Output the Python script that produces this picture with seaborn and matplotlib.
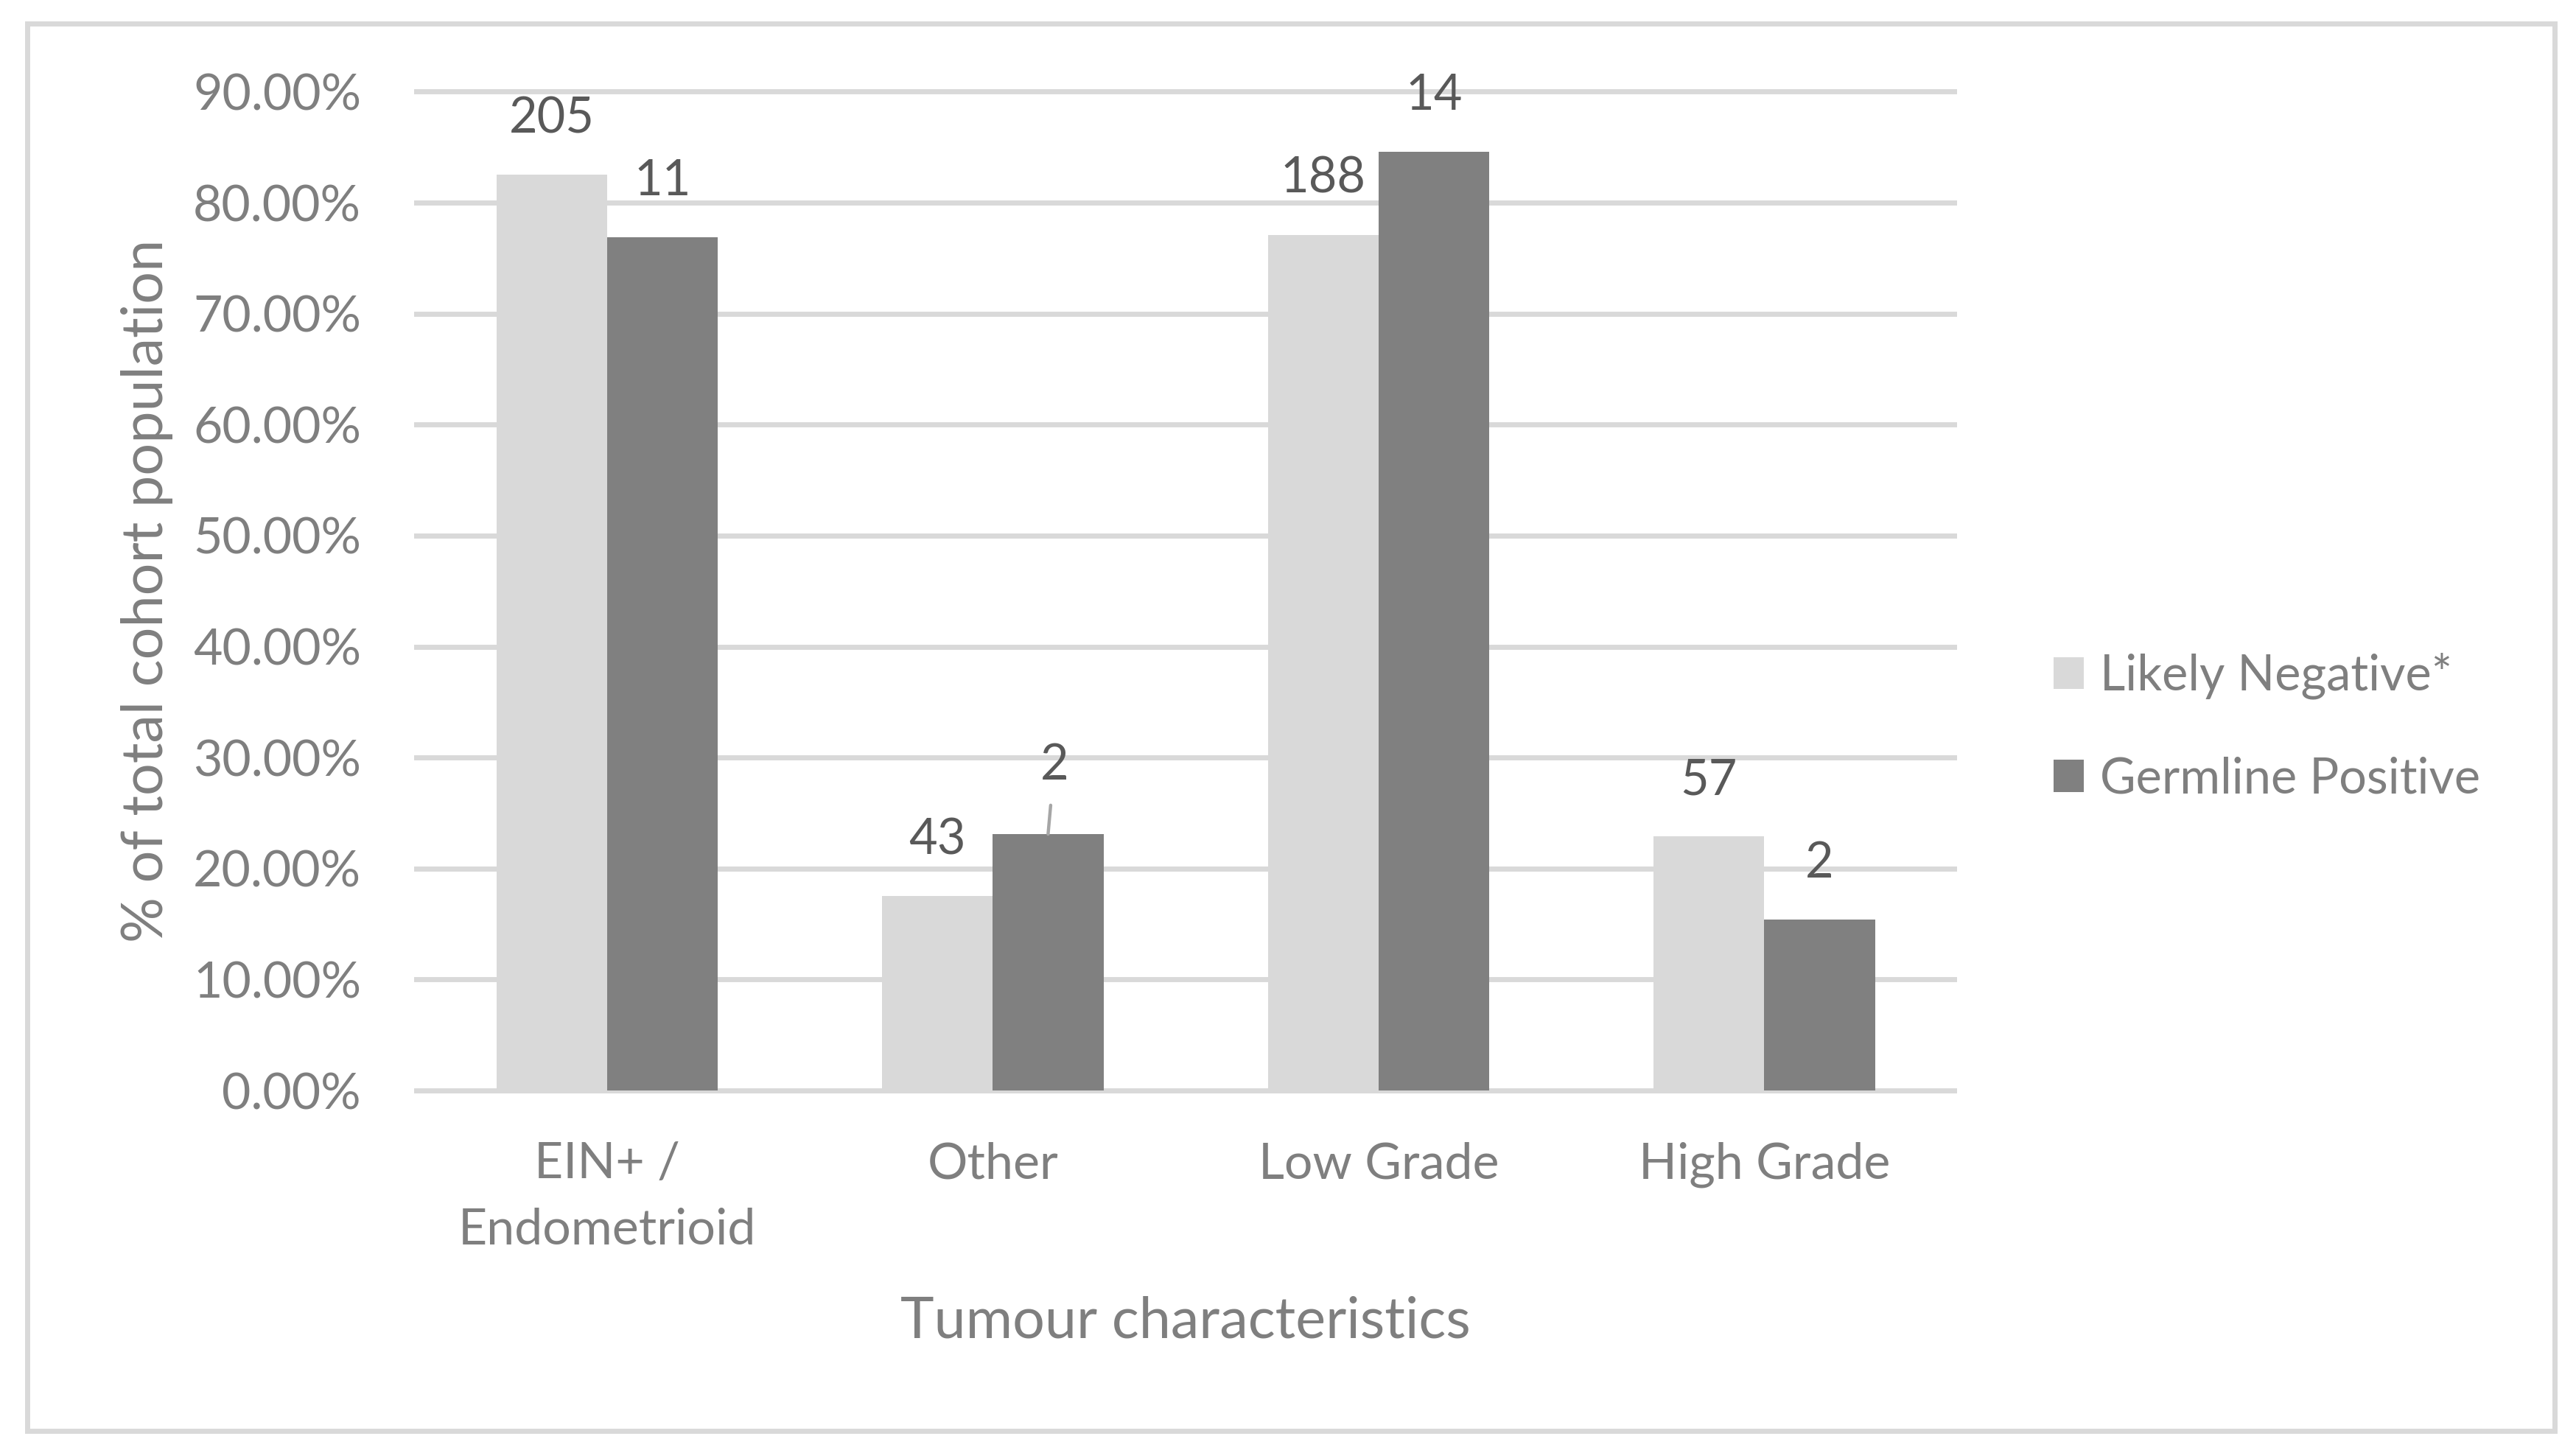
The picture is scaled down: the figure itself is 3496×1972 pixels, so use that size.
import matplotlib
matplotlib.use("Agg")
import matplotlib.pyplot as plt
import seaborn as sns
import pandas as pd
from matplotlib.patches import Rectangle
from matplotlib.ticker import FuncFormatter

# data (% of total cohort population)
categories = ["EIN+ /\nEndometrioid", "Other", "Low Grade", "High Grade"]
groups = ["Likely Negative*", "Germline Positive"]
likely_negative = [82.5, 17.5, 77.1, 22.9]
germline_positive = [76.9, 23.1, 84.6, 15.4]
likely_negative_n = [205, 43, 188, 57]
germline_positive_n = [11, 2, 14, 2]
y_ticks = [0, 10, 20, 30, 40, 50, 60, 70, 80, 90]

colors = ["#d9d9d9", "#808080"]
grid_col = "#d9d9d9"
text_col = "#7f7f7f"
label_col = "#595959"

df = pd.DataFrame({
    "category": categories * 2,
    "group": [groups[0]] * 4 + [groups[1]] * 4,
    "pct": likely_negative + germline_positive,
})
counts = [likely_negative_n, germline_positive_n]

sns.set_theme(style="white")
plt.rcParams["font.family"] = ["Lato", "DejaVu Sans"]

fig = plt.figure(figsize=(17.48, 9.86), dpi=200)
ax = fig.add_axes([0.16076, 0.24757, 0.59897, 0.69122])

sns.barplot(data=df, x="category", y="pct", hue="group", order=categories,
            hue_order=groups, palette=colors, saturation=1, width=0.574,
            gap=0, linewidth=0, ax=ax, legend=True)

ax.set_ylim(-0.25, 90.25)
ax.set_xlim(-0.5, 3.5)
ax.set_yticks(y_ticks)
ax.yaxis.set_major_formatter(FuncFormatter(lambda v, p: f"{v:.2f}%"))
ax.set_axisbelow(True)
ax.yaxis.grid(True, color=grid_col, linewidth=2.5)
ax.xaxis.grid(False)
for s in ax.spines.values():
    s.set_visible(False)

ax.tick_params(axis="y", length=0, pad=25.9, labelsize=24.5, labelcolor=text_col)
ax.tick_params(axis="x", length=0, pad=23.5, labelcolor=text_col)
ax.set_xticks(range(len(categories)), categories, linespacing=1.55,
              fontsize=24.5, color=text_col)

ax.set_xlabel("Tumour characteristics", fontsize=27.8, color=text_col, va="baseline")
ax.xaxis.set_label_coords(0.5, -0.243)
ax.set_ylabel("% of total cohort population", fontsize=27.8, color=text_col, va="center")
ax.yaxis.set_label_coords(-0.1729, 0.5)

# count labels above bars
for gi, cont in enumerate(ax.containers):
    for ci, bar in enumerate(cont):
        x = bar.get_x() + bar.get_width() / 2
        y = bar.get_height()
        n = counts[gi][ci]
        if gi == 1 and ci == 1:
            ax.annotate(str(n), (x, y), xytext=(3, 26.6), textcoords="offset points",
                        ha="center", va="baseline", fontsize=24, color=label_col,
                        arrowprops=dict(arrowstyle="-", color="#a6a6a6", lw=1.6,
                                        shrinkA=6, shrinkB=0))
        else:
            ax.annotate(str(n), (x, y), xytext=(0, 20.5), textcoords="offset points",
                        ha="center", va="baseline", fontsize=24, color=label_col)

handles, labels = ax.get_legend_handles_labels()
ax.legend(handles, labels, loc="center left", bbox_to_anchor=(0.7972, 0.4995),
          bbox_transform=fig.transFigure, frameon=False, fontsize=24,
          labelcolor=text_col, handlelength=0.62, handleheight=0.62,
          handletextpad=0.33, labelspacing=1.16, borderpad=0, borderaxespad=0)

# outer chart border
fig.patches.append(Rectangle((0.0106, 0.0152), 0.9811, 0.9686, transform=fig.transFigure,
                             fill=False, edgecolor=grid_col, linewidth=2.5))

fig.savefig("out.png", dpi=200, facecolor="white")
